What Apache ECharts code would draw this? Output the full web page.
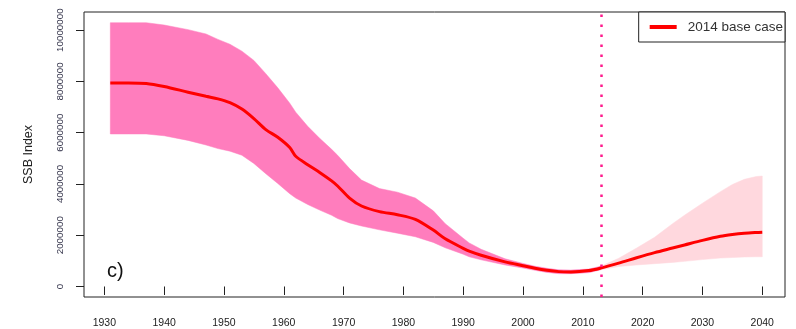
<!DOCTYPE html>
<html>
<head>
<meta charset="utf-8">
<script src="https://cdn.jsdelivr.net/npm/echarts@6/dist/echarts.min.js"></script>
<style>
html,body{margin:0;padding:0;background:#fff;}
#chart{width:796px;height:329px;}
</style>
</head>
<body>
<div id="chart"></div>
<script>
// ---- data (millions) ----
const histYears = [1931,1934,1937,1940,1944,1947,1949,1951,1953,1955,1957,1959,1961,1962,1964,1966,1968,1969,1971,1973,1976,1979,1982,1985,1987,1990,1991,1993,1997,2000,2002,2004,2006,2008,2011,2013];
const histHi  = [10.29,10.29,10.29,10.2,10.02,9.85,9.64,9.45,9.18,8.82,8.3,7.75,7.15,6.8,6.25,5.78,5.35,5.12,4.6,4.15,3.82,3.68,3.45,2.95,2.45,1.88,1.7,1.45,1.08,0.9,0.79,0.71,0.65,0.64,0.68,0.79];
const histMid = [7.94,7.94,7.92,7.8,7.58,7.42,7.32,7.17,6.92,6.55,6.12,5.82,5.42,5.08,4.75,4.45,4.12,3.92,3.45,3.14,2.92,2.8,2.62,2.2,1.86,1.49,1.38,1.22,0.96,0.81,0.71,0.63,0.58,0.57,0.62,0.72];
const histLo  = [5.95,5.95,5.95,5.88,5.7,5.52,5.38,5.28,5.12,4.8,4.4,4.02,3.62,3.45,3.2,2.98,2.78,2.65,2.48,2.36,2.21,2.08,1.94,1.72,1.51,1.26,1.16,1.04,0.84,0.72,0.63,0.55,0.5,0.5,0.54,0.65];

const projYears = [2013,2016,2019,2022,2025,2027,2030,2033,2035,2037,2039,2040];
const projHi  = [0.79,1.1,1.5,1.92,2.45,2.78,3.25,3.7,3.98,4.18,4.29,4.31];
const projMid = [0.72,0.91,1.12,1.32,1.5,1.62,1.8,1.96,2.03,2.08,2.11,2.12];
const projLo  = [0.65,0.78,0.84,0.89,0.94,0.98,1.05,1.11,1.13,1.15,1.16,1.16];

const scale = 1e6;
const xTicks = [1930,1940,1950,1960,1970,1980,1990,2000,2010,2020,2030,2040];
const yTicks = [0,2000000,4000000,6000000,8000000,10000000];
const refYear = 2013;
const seriesName = '2014 base case';

// ---- build series data ----
function bandData(ys, lo, hi){ return ys.map((y,i)=>[y, lo[i]*scale, hi[i]*scale]); }
const lineData = histYears.map((y,i)=>[y, histMid[i]*scale])
  .concat(projYears.slice(1).map((y,i)=>[y, projMid[i+1]*scale]));

function bandRender(color){
  return function(params, api){
    if (params.dataIndexInside !== 0) return null;
    const n = params.dataInsideLength;
    const up = [], dn = [];
    for (let i=0;i<n;i++){
      const x = api.value(0,i);
      dn.push(api.coord([x, api.value(1,i)]));
      up.push(api.coord([x, api.value(2,i)]));
    }
    return {type:'polygon', shape:{points: up.concat(dn.reverse())}, style:{fill:color, stroke:color, lineWidth:0.5}};
  };
}

const chart = echarts.init(document.getElementById('chart'), null, {renderer:'canvas'});
chart.setOption({
  animation:false,
  backgroundColor:'#fff',
  textStyle:{fontFamily:'Liberation Sans, Arial, sans-serif'},
  grid:{left:84, top:12, right:11, bottom:29.7, show:true, borderColor:'#222', borderWidth:1, backgroundColor:'transparent'},
  legend:{
    right:11, top:12, orient:'horizontal',
    data:[{name:seriesName, icon:'rect'}],
    itemWidth:27, itemHeight:4,
    backgroundColor:'#fff', borderColor:'#222', borderWidth:1, borderRadius:0,
    padding:[8,2,8,11],
    textStyle:{fontSize:13.5, color:'#333', padding:[0,0,0,6], fontFamily:'Liberation Sans, Arial, sans-serif'}
  },
  xAxis:{
    type:'value', min:1926.6, max:2043.8, offset:5.5,
    splitLine:{show:false},
    axisLine:{show:false},
    axisTick:{show:true, length:8.5, lineStyle:{color:'#222', width:1}, customValues:xTicks},
    axisLabel:{fontSize:10.5, color:'#222', margin:15.5, customValues:xTicks, formatter:v=>String(v)}
  },
  yAxis:{
    type:'value', min:-410000, max:10708000,
    name:'SSB Index', nameLocation:'middle', nameRotate:90, nameGap:49,
    nameTextStyle:{fontSize:12.5, color:'#222'},
    splitLine:{show:false},
    axisLine:{show:false},
    axisTick:{show:true, length:8, lineStyle:{color:'#222', width:1}, customValues:yTicks},
    axisLabel:{rotate:90, fontSize:9.8, color:'#33334a', margin:19, customValues:yTicks, formatter:v=>String(v)}
  },
  graphic:[{type:'text', left:107, top:261, style:{text:'c)', fontSize:20, fill:'#111', fontFamily:'Liberation Sans, Arial, sans-serif'}, z:10}],
  series:[
    {type:'custom', name:'hist band', data:bandData(histYears, histLo, histHi), encode:{x:0, y:[1,2]}, renderItem:bandRender('#ff7dbd'), z:1, silent:true},
    {type:'custom', name:'proj band', data:bandData(projYears, projLo, projHi), encode:{x:0, y:[1,2]}, renderItem:bandRender('#ffd8de'), z:1, silent:true},
    {type:'line', name:seriesName, data:lineData, symbol:'none', smooth:0.3, z:3,
     lineStyle:{color:'#ff0000', width:3}, itemStyle:{color:'#ff0000'},
     markLine:{silent:true, symbol:['none','none'], label:{show:false},
       lineStyle:{color:'#ff1a8c', width:2.5, type:[2.5,7.5], cap:'butt'},
       data:[{xAxis:refYear}]}}
  ]
});
</script>
</body>
</html>
